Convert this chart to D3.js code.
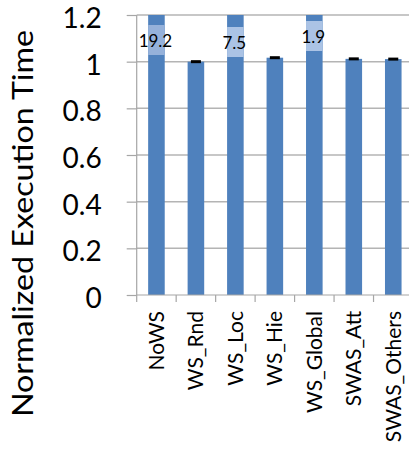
<!DOCTYPE html>
<html>
<head>
<meta charset="utf-8">
<script src="https://cdn.jsdelivr.net/npm/d3@7"></script>
<style>
  html, body { margin: 0; padding: 0; background: #fff; }
  svg { display: block; font-family: Lato, "Open Sans", sans-serif; }
</style>
</head>
<body>
<svg id="chart" width="409" height="451"></svg>
<script>
// Normalized execution time per work-stealing scheme
const categories = ["NoWS", "WS_Rnd", "WS_Loc", "WS_Hie", "WS_Global", "SWAS_Att", "SWAS_Others"];
const values = [19.2, 1.0, 7.5, 1.017, 1.9, 1.012, 1.011];
const yTicks = [0, 0.2, 0.4, 0.6, 0.8, 1, 1.2];
const yMax = 1.2;

const svg = d3.select("#chart");
const plotLeft = 136.7, plotRight = 413, plotTop = 15, plotBottom = 295;

const x = d3.scaleBand().domain(categories).range([plotLeft, plotRight]).padding(0);
const y = d3.scaleLinear().domain([0, yMax]).range([plotBottom, plotTop]);
const barW = x.bandwidth() * 0.42;

// horizontal gridlines
svg.append("g").selectAll("line")
  .data(yTicks.filter(t => t > 0))
  .join("line")
  .attr("x1", plotLeft).attr("x2", plotRight)
  .attr("y1", d => y(d)).attr("y2", d => y(d))
  .attr("stroke", "#b4b4b4").attr("stroke-width", 1.5);

// y axis
const yAxis = d3.axisLeft(y)
  .tickValues(yTicks)
  .tickFormat(d => d3.format("~g")(d))
  .tickSize(10)
  .tickPadding(25);
const gy = svg.append("g").attr("transform", `translate(${plotLeft},0)`).call(yAxis);
gy.select(".domain").attr("stroke", "#a6a6a6").attr("stroke-width", 1.2).attr("d", `M0,${plotTop}V${plotBottom}`);
gy.selectAll(".tick line").attr("stroke", "#a6a6a6").attr("stroke-width", 1.2);
gy.selectAll(".tick text")
  .attr("font-size", 28).attr("fill", "#000")
  .attr("font-family", "Lato, sans-serif")
  .attr("dy", "0.45em");

// bars, clipped at the top of the value axis
svg.append("g").selectAll("rect")
  .data(categories)
  .join("rect")
  .attr("x", d => x(d) + (x.bandwidth() - barW) / 2)
  .attr("width", barW)
  .attr("y", (d, i) => y(Math.min(values[i], yMax)))
  .attr("height", (d, i) => plotBottom - y(Math.min(values[i], yMax)))
  .attr("fill", "#4f81bd");

// break markers with the true value for bars beyond the axis
const breakCenter = { "NoWS": 40, "WS_Loc": 42, "WS_Global": 36 };
const breakFill = { "NoWS": "#95b1da", "WS_Loc": "#abc3e5", "WS_Global": "#abc3e5" };
const over = categories.map((c, i) => ({ c, v: values[i] })).filter(d => d.v > yMax);
const brk = svg.append("g");
brk.selectAll("rect")
  .data(over)
  .join("rect")
  .attr("x", d => x(d.c) + (x.bandwidth() - barW) / 2)
  .attr("width", barW)
  .attr("y", d => breakCenter[d.c] - 15)
  .attr("height", 30)
  .attr("fill", d => breakFill[d.c]);
brk.selectAll("text")
  .data(over)
  .join("text")
  .attr("x", d => x(d.c) + x.bandwidth() / 2 - 1)
  .attr("y", d => breakCenter[d.c] + 1)
  .attr("dy", "0.36em")
  .attr("text-anchor", "middle")
  .attr("font-size", 17)
  .attr("fill", "#000")
  .text(d => d.v);

// error-bar caps on bars within range
svg.append("g").selectAll("rect")
  .data(categories.map((c, i) => ({ c, v: values[i] })).filter(d => d.v <= yMax))
  .join("rect")
  .attr("x", d => x(d.c) + x.bandwidth() / 2 - 5)
  .attr("width", 10)
  .attr("y", d => y(d.v) - 1.5)
  .attr("height", 3)
  .attr("fill", "#000");

// category axis with ticks between categories
const gx = svg.append("g");
gx.append("line")
  .attr("x1", plotLeft).attr("x2", plotRight)
  .attr("y1", plotBottom).attr("y2", plotBottom)
  .attr("stroke", "#a6a6a6").attr("stroke-width", 1.2);
gx.selectAll("line.tk")
  .data(categories.concat(["end"]))
  .join("line")
  .attr("class", "tk")
  .attr("x1", (d, i) => plotLeft + i * x.step()).attr("x2", (d, i) => plotLeft + i * x.step())
  .attr("y1", plotBottom).attr("y2", plotBottom + 7)
  .attr("stroke", "#a6a6a6").attr("stroke-width", 1.2);
gx.selectAll("text")
  .data(categories)
  .join("text")
  .attr("transform", d => `translate(${x(d) + x.bandwidth() / 2 + 7.5},${plotBottom + 16}) rotate(-90)`)
  .attr("text-anchor", "end")
  .attr("font-size", 21)
  .attr("fill", "#000")
  .text(d => d);

// value axis title
svg.append("text")
  .attr("transform", "translate(33,223.5) rotate(-90)")
  .attr("text-anchor", "middle")
  .attr("font-size", 29)
  .attr("textLength", 387)
  .attr("lengthAdjust", "spacingAndGlyphs")
  .attr("fill", "#000")
  .text("Normalized Execution Time");
</script>
</body>
</html>
